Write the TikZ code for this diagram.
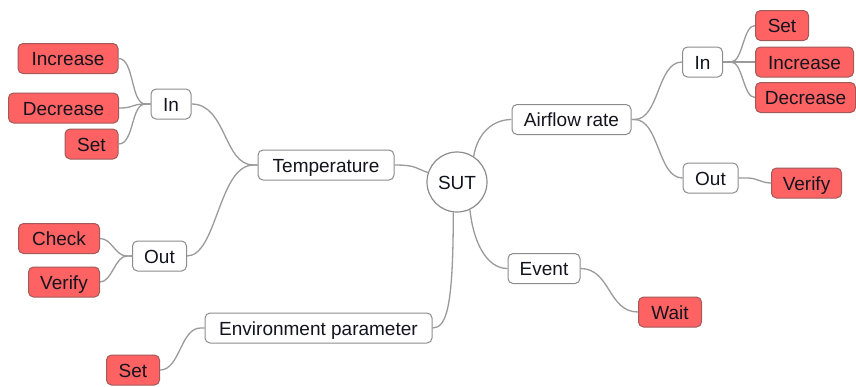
\documentclass[tikz,border=0pt]{standalone}
\usepackage{fontspec}
\setmainfont{Liberation Sans}
\definecolor{linkgray}{HTML}{9A9A9A}
\definecolor{boxedge}{HTML}{8C8C8C}
\definecolor{leafred}{HTML}{FF6262}
\definecolor{leafedge}{HTML}{A05A5A}
\definecolor{inktext}{HTML}{14141E}
\begin{document}
\begin{tikzpicture}[x=1pt,y=-1pt,
  every node/.style={font=\fontsize{19}{22}\selectfont, text=inktext, inner sep=0pt,
    text height=14pt, text depth=0pt},
  topic/.style={draw=boxedge, line width=1pt, fill=white, rounded corners=5pt, minimum height=30pt},
  leaf/.style={draw=leafedge, line width=1pt, fill=leafred, rounded corners=5pt, minimum height=30pt},
  hub/.style={draw=boxedge, line width=1.2pt, fill=white, circle, minimum size=60pt},
  link/.style={draw=linkgray, line width=1.3pt}
]
\useasboundingbox (0,0) rectangle (856,386);

% centre
\node[hub] (sut) at (457,182) {SUT};

% first level
\node[topic, minimum width=136pt] (temp) at (326,165) {Temperature};
\node[topic, minimum width=119pt] (air) at (571.5,119.5) {Airflow rate};
\node[topic, minimum width=72pt] (event) at (544,268.5) {Event};
\node[topic, minimum width=227pt] (env) at (318.5,328) {Environment parameter};

% temperature branch
\node[topic, minimum width=40pt] (tin) at (171,104) {In};
\node[topic, minimum width=54pt] (tout) at (159.5,256) {Out};
\node[leaf, minimum width=100pt] (tinc) at (68,58.5) {Increase};
\node[leaf, minimum width=110pt] (tdec) at (63.5,108) {Decrease};
\node[leaf, minimum width=53pt] (tset) at (91.5,144) {Set};
\node[leaf, minimum width=81pt] (tchk) at (59,238.5) {Check};
\node[leaf, minimum width=71pt] (tver) at (64,282) {Verify};

% airflow branch
\node[topic, minimum width=40pt] (ain) at (702.5,62) {In};
\node[topic, minimum width=55pt] (aout) at (710.5,178) {Out};
\node[leaf, minimum width=53pt] (aset) at (782,25.5) {Set};
\node[leaf, minimum width=98pt] (ainc) at (804.5,62) {Increase};
\node[leaf, minimum width=100pt] (adec) at (805.5,97.5) {Decrease};
\node[leaf, minimum width=70pt] (aver) at (806.5,183) {Verify};

% event and environment leaves
\node[leaf, minimum width=63pt] (wait) at (670,312) {Wait};
\node[leaf, minimum width=53pt] (eset) at (133,370) {Set};

% connectors from the centre
\path[link] (temp.east) .. controls +(22,0) and +(-12,-4) .. (sut.162);
\path[link] (sut.57) .. controls +(4,-24) and +(-18,0) .. (air.west);
\path[link] (sut.-65) .. controls +(3,30) and +(-22,0) .. (event.west);
\path[link] (sut.-97) .. controls +(0,95) and +(14,0) .. (env.east);

% temperature branch
\path[link] (temp.west) -- ++(-4,0) .. controls +(-30,0) and +(35,0) .. (tin.east);
\path[link] (temp.west) -- ++(-4,0) .. controls +(-35,0) and +(30,0) .. (tout.east);
\path[link] (tin.west) -- ++(-5,0) .. controls +(-15,0) and +(16,0) .. (tinc.east);
\path[link] (tin.west) -- ++(-5,0) .. controls +(-15,0) and +(16,0) .. (tdec.east);
\path[link] (tin.west) -- ++(-5,0) .. controls +(-15,0) and +(16,0) .. (tset.east);
\path[link] (tout.west) -- ++(-5,0) .. controls +(-12,0) and +(12,0) .. (tchk.east);
\path[link] (tout.west) -- ++(-5,0) .. controls +(-12,0) and +(12,0) .. (tver.east);

% airflow branch
\path[link] (air.east) -- ++(3,0) .. controls +(25,0) and +(-25,0) .. (ain.west);
\path[link] (air.east) -- ++(3,0) .. controls +(25,0) and +(-25,0) .. (aout.west);
\path[link] (ain.east) -- ++(8,0) .. controls +(12,0) and +(-12,0) .. (aset.west);
\path[link] (ain.east) -- ++(8,0) .. controls +(12,0) and +(-12,0) .. (ainc.west);
\path[link] (ain.east) -- ++(8,0) .. controls +(12,0) and +(-12,0) .. (adec.west);
\path[link] (aout.east) -- ++(9,0) .. controls +(10,0) and +(-10,0) .. (aver.west);

% event and environment
\path[link] (event.east) .. controls +(30,0) and +(-30,0) .. (wait.west);
\path[link] (env.west) -- ++(-4,0) .. controls +(-20,0) and +(20,0) .. (eset.east);
\end{tikzpicture}
\end{document}
